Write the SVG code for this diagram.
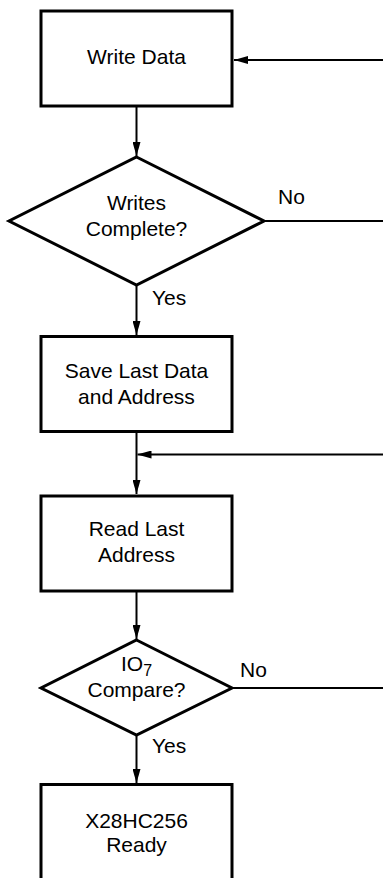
<svg xmlns="http://www.w3.org/2000/svg" width="383" height="878" viewBox="0 0 383 878">
<style>
.box{fill:#fff;stroke:#000;stroke-width:3}
.t{font-family:"Liberation Sans",Arial,sans-serif;font-size:21px;fill:#000;text-anchor:middle}
.lbl{font-family:"Liberation Sans",Arial,sans-serif;font-size:21px;fill:#000}
.c{fill:none;stroke:#000;stroke-width:2}
.a{marker-end:url(#ah)}
</style>
<defs>
<marker id="ah" markerUnits="userSpaceOnUse" markerWidth="14" markerHeight="8" refX="14" refY="4" orient="auto">
<path d="M0,0 L14,4 L0,8 z" fill="#000"/>
</marker>
</defs>
<rect width="383" height="878" fill="#fff"/>
<g id="connectors">
<path class="c a" d="M136.5,107 L136.5,156"/>
<path class="c a" d="M136.5,285 L136.5,335"/>
<path class="c a" d="M136.5,432 L136.5,494"/>
<path class="c a" d="M383,454.5 L137.5,454.5"/>
<path class="c a" d="M136.5,592 L136.5,639"/>
<path class="c a" d="M136.5,735 L136.5,783"/>
<path class="c a" d="M383,60 L234,60"/>
<path class="c" d="M264,221 L383,221"/>
<path class="c" d="M232,688 L383,688"/>
<text class="lbl" x="278" y="204">No</text>
<text class="lbl" x="152" y="305">Yes</text>
<text class="lbl" x="240" y="677">No</text>
<text class="lbl" x="152" y="753">Yes</text>
</g>
<g id="write-data">
<rect class="box" x="41" y="11" width="191" height="95"/>
<text class="t" x="136.5" y="64">Write Data</text>
</g>
<g id="writes-complete">
<polygon class="box" points="136.5,157 264,221 136.5,285 9,221"/>
<text class="t" x="136.5" y="210">Writes</text>
<text class="t" x="136.5" y="236">Complete?</text>
</g>
<g id="save-last">
<rect class="box" x="41" y="336.5" width="191" height="95"/>
<text class="t" x="136.5" y="378">Save Last Data</text>
<text class="t" x="136.5" y="404">and Address</text>
</g>
<g id="read-last">
<rect class="box" x="41" y="496" width="191" height="95"/>
<text class="t" x="136.5" y="536">Read Last</text>
<text class="t" x="136.5" y="562">Address</text>
</g>
<g id="io7-compare">
<polygon class="box" points="136.5,640 232,688 136.5,735 41,688"/>
<text class="t" x="136.5" y="671">IO<tspan font-size="16" dy="5">7</tspan></text>
<text class="t" x="136.5" y="697">Compare?</text>
</g>
<g id="ready">
<rect class="box" x="41" y="784.5" width="191" height="95"/>
<text class="t" x="136.5" y="828">X28HC256</text>
<text class="t" x="136.5" y="852">Ready</text>
</g>
</svg>
